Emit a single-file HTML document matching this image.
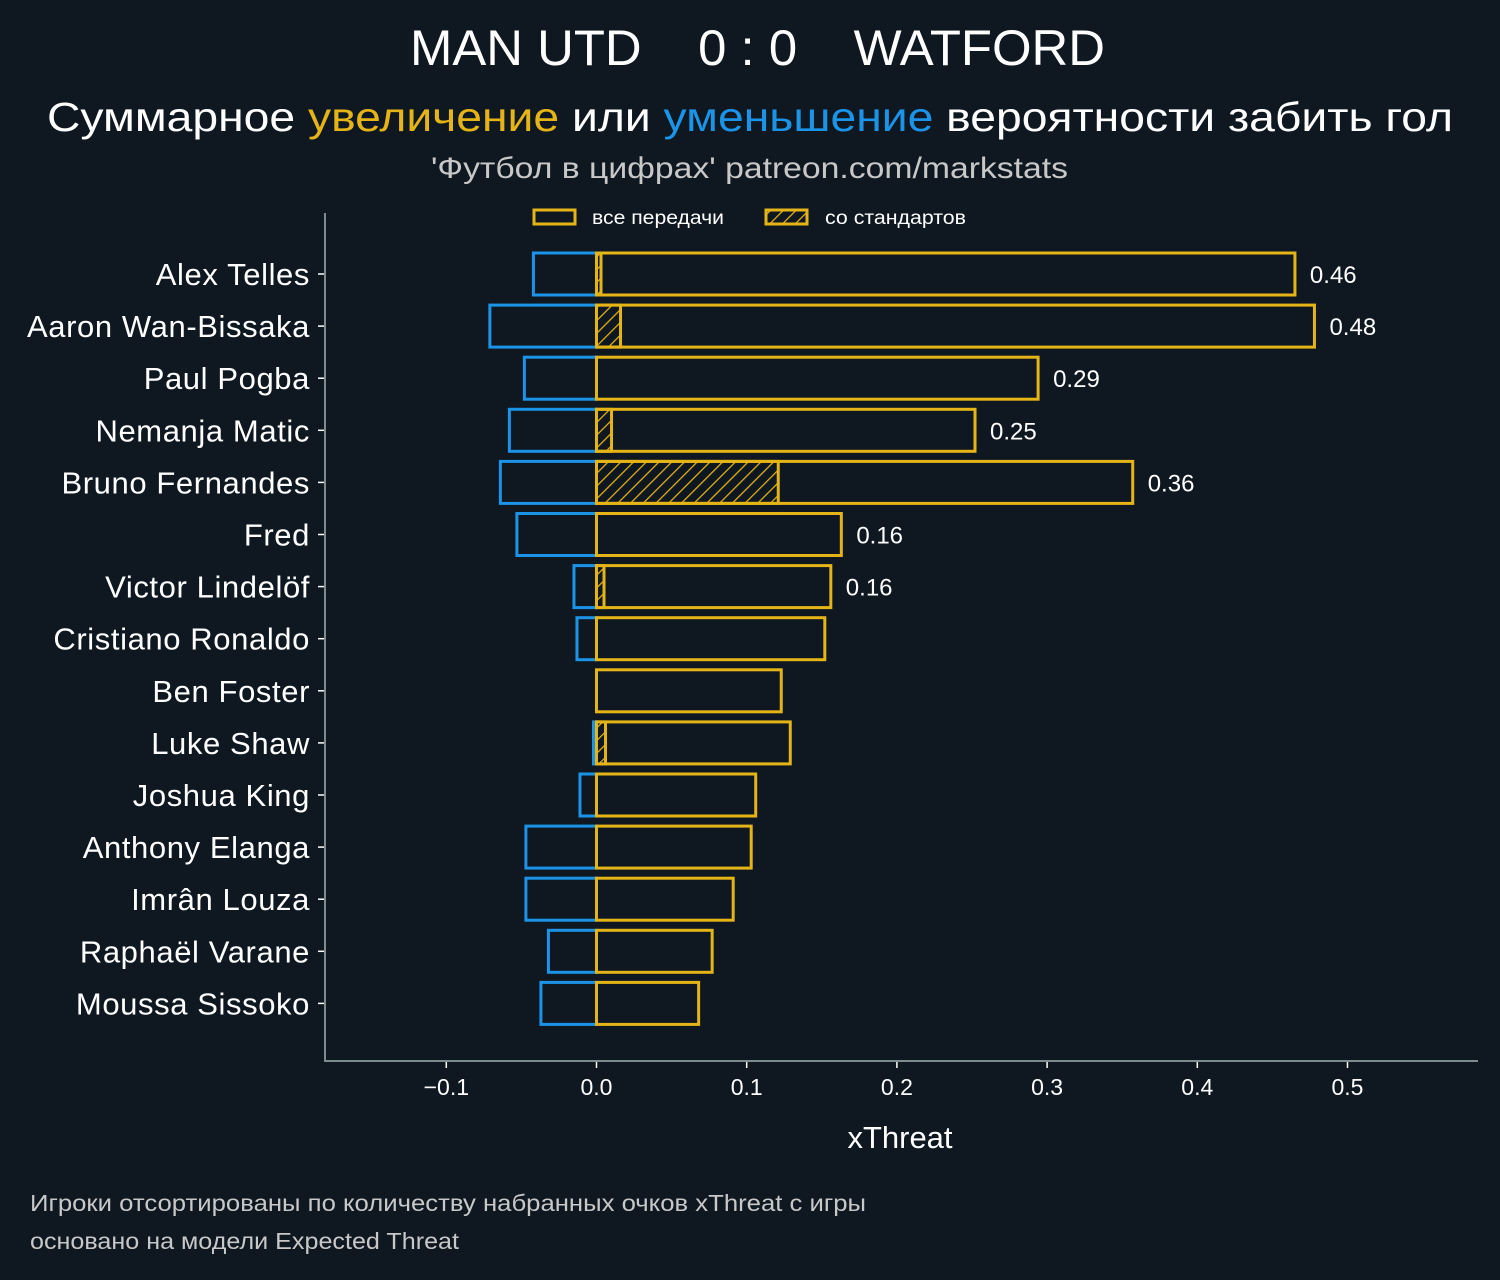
<!DOCTYPE html>
<html><head><meta charset="utf-8">
<style>
html,body{margin:0;padding:0;background:#0f1821;}
body{width:1500px;height:1275px;overflow:hidden;font-family:"Liberation Sans","DejaVu Sans",sans-serif;}
svg text{font-family:"Liberation Sans","DejaVu Sans",sans-serif;}
</style></head>
<body>
<svg id="chart" width="1500" height="1275" xmlns="http://www.w3.org/2000/svg">
<defs>
<pattern id="hatch" patternUnits="userSpaceOnUse" width="9" height="9" patternTransform="rotate(45)">
<line x1="0" y1="0" x2="0" y2="9" stroke="#e5b417" stroke-width="2.5"/>
</pattern>
</defs>
<rect width="1500" height="1275" fill="#0f1821"/>
<text x="410" y="65" font-size="50" fill="#ffffff" textLength="695" lengthAdjust="spacingAndGlyphs" xml:space="preserve">MAN UTD    0 : 0    WATFORD</text>
<text x="47" y="131" font-size="41" fill="#ffffff" textLength="1406" lengthAdjust="spacingAndGlyphs">Суммарное <tspan fill="#e5b417">увеличение</tspan> или <tspan fill="#1b94e8">уменьшение</tspan> вероятности забить гол</text>
<text x="431" y="178" font-size="30" fill="#c8c8c8" textLength="637" lengthAdjust="spacingAndGlyphs">'Футбол в цифрах' patreon.com/markstats</text>
<rect x="534" y="210" width="41" height="14" fill="none" stroke="#e5b417" stroke-width="3"/>
<text x="592" y="224" font-size="19" fill="#ffffff" textLength="132" lengthAdjust="spacingAndGlyphs">все передачи</text>
<rect x="766" y="210" width="41" height="14" fill="url(#hatch)" stroke="#e5b417" stroke-width="3"/>
<text x="825" y="224" font-size="19" fill="#ffffff" textLength="141" lengthAdjust="spacingAndGlyphs">со стандартов</text>
<g id="plot"></g>
<text x="900" y="1148" font-size="31" fill="#ffffff" text-anchor="middle">xThreat</text>
<text x="30" y="1211" font-size="23" fill="#c8c8c8" textLength="836" lengthAdjust="spacingAndGlyphs">Игроки отсортированы по количеству набранных очков xThreat с игры</text>
<text x="30" y="1249" font-size="23" fill="#c8c8c8" textLength="429" lengthAdjust="spacingAndGlyphs">основано на модели Expected Threat</text>
</svg>
<script>
const players = ["Alex Telles","Aaron Wan-Bissaka","Paul Pogba","Nemanja Matic","Bruno Fernandes","Fred","Victor Lindelöf","Cristiano Ronaldo","Ben Foster","Luke Shaw","Joshua King","Anthony Elanga","Imrân Louza","Raphaël Varane","Moussa Sissoko"];
const positive = [0.465,0.478,0.294,0.252,0.357,0.163,0.156,0.152,0.123,0.129,0.106,0.103,0.091,0.077,0.068];
const negative = [-0.042,-0.071,-0.048,-0.058,-0.064,-0.053,-0.015,-0.013,0,-0.002,-0.011,-0.047,-0.047,-0.032,-0.037];
const setPieces = [0.003,0.016,0,0.010,0.121,0,0.005,0,0,0.006,0,0,0,0,0];
const valueLabels = ["0.46","0.48","0.29","0.25","0.36","0.16","0.16","","","","","","","",""];
const xTicks = [-0.1,0,0.1,0.2,0.3,0.4,0.5];
const xTickLabels = ["−0.1","0.0","0.1","0.2","0.3","0.4","0.5"];

const NS="http://www.w3.org/2000/svg";
const g=document.getElementById('plot');
const X0=596.5, SCALE=1502;
const x=v=>X0+v*SCALE;
const y=i=>274+i*52.1;
const BH=42;
function mk(t,a){const e=document.createElementNS(NS,t);for(const k in a)e.setAttribute(k,a[k]);g.appendChild(e);return e;}

let ax=mk('line',{x1:325,y1:213,x2:325,y2:1061,stroke:'#7d8c8c','stroke-width':2});


let bx=mk('line',{x1:324,y1:1061,x2:1478,y2:1061,stroke:'#7d8c8c','stroke-width':2});



xTicks.forEach((t,i)=>{
  const tk=mk('line',{x1:x(t),y1:1062,x2:x(t),y2:1068,stroke:'#ffffff','stroke-width':1.5});
  
  
  const tl=mk('text',{x:x(t),y:1095,'font-size':23,fill:'#ffffff','text-anchor':'middle'});
  tl.textContent=xTickLabels[i];
  
  
});

players.forEach((p,i)=>{
  const cy=y(i);
  const tk=mk('line',{x1:318,y1:cy,x2:324,y2:cy,stroke:'#ffffff','stroke-width':1.5});
  
  
  const lb=mk('text',{x:310,y:cy+11,'font-size':31,fill:'#ffffff','text-anchor':'end','letter-spacing':0.6});
  lb.textContent=p;
  
  
  if(negative[i]<0){
    const n=mk('rect',{x:x(negative[i]),y:cy-BH/2,width:x(0)-x(negative[i]),height:BH,fill:'none',stroke:'#1b94e8','stroke-width':3});
    
    
  }
  if(setPieces[i]>0){
    const s=mk('rect',{x:x(0),y:cy-BH/2,width:x(setPieces[i])-x(0),height:BH,fill:'url(#hatch)',stroke:'#e5b417','stroke-width':3});
    
    
  }
  const b=mk('rect',{x:x(0),y:cy-BH/2,width:x(positive[i])-x(0),height:BH,fill:'none',stroke:'#e5b417','stroke-width':3});
  
  
  if(valueLabels[i]){
    const v=mk('text',{x:x(positive[i])+15,y:cy+9,'font-size':24,fill:'#ffffff'});
    v.textContent=valueLabels[i];
    
    
  }
});
</script>
</body></html>
